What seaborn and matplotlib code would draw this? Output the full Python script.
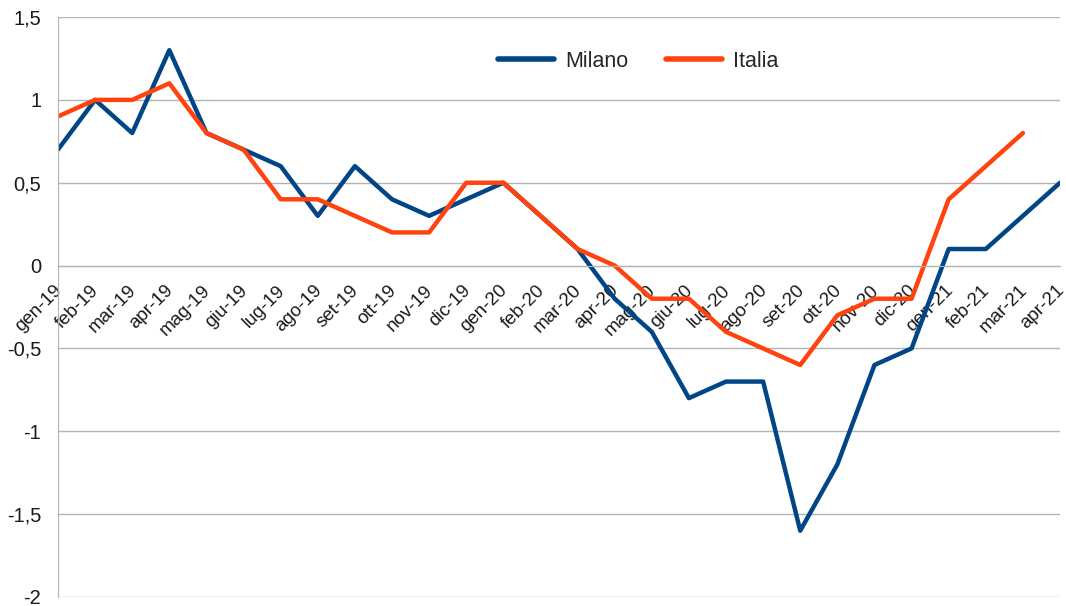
import pandas as pd
import seaborn as sns
import matplotlib.pyplot as plt
import matplotlib.transforms as mtransforms

# DATI
mesi = ['gen-19', 'feb-19', 'mar-19', 'apr-19', 'mag-19', 'giu-19', 'lug-19',
        'ago-19', 'set-19', 'ott-19', 'nov-19', 'dic-19', 'gen-20', 'feb-20',
        'mar-20', 'apr-20', 'mag-20', 'giu-20', 'lug-20', 'ago-20', 'set-20',
        'ott-20', 'nov-20', 'dic-20', 'gen-21', 'feb-21', 'mar-21', 'apr-21']

milano = [0.7, 1.0, 0.8, 1.3, 0.8, 0.7, 0.6, 0.3, 0.6, 0.4, 0.3, 0.4, 0.5, 0.3,
          0.1, -0.2, -0.4, -0.8, -0.7, -0.7, -1.6, -1.2, -0.6, -0.5, 0.1, 0.1,
          0.3, 0.5]

italia = [0.9, 1.0, 1.0, 1.1, 0.8, 0.7, 0.4, 0.4, 0.3, 0.2, 0.2, 0.5, 0.5, 0.3,
          0.1, 0.0, -0.2, -0.2, -0.4, -0.5, -0.6, -0.3, -0.2, -0.2, 0.4, 0.6,
          0.8, None]

y_ticks = [1.5, 1, 0.5, 0, -0.5, -1, -1.5, -2]
y_labels = ['1,5', '1', '0,5', '0', '-0,5', '-1', '-1,5', '-2']

df = pd.DataFrame({'pos': list(range(len(mesi))) * 2,
                   'valore': milano + italia,
                   'serie': ['Milano'] * len(mesi) + ['Italia'] * len(mesi)})
df['valore'] = pd.to_numeric(df['valore'])

sns.set_style('white')
plt.rcParams['font.family'] = ['Liberation Sans', 'DejaVu Sans']

fig = plt.figure(figsize=(10.66, 6.06), dpi=100)
ax = fig.add_axes([0.0544, 0.0149, 0.94, 0.957])

sns.lineplot(data=df, x='pos', y='valore', hue='serie',
             palette={'Milano': '#004586', 'Italia': '#ff420e'},
             linewidth=3.2, ax=ax, sort=False)

# asse x sullo zero (prima delle etichette, altrimenti si azzerano)
ax.spines['bottom'].set_position(('data', 0))
ax.spines['bottom'].set_color('#b3b3b3')
ax.spines['left'].set_color('#b3b3b3')
ax.spines['top'].set_visible(False)
ax.spines['right'].set_visible(False)

ax.set_axisbelow(True)
ax.set_xlim(0, len(mesi) - 1)
ax.set_ylim(-2, 1.5)
ax.set_yticks(y_ticks)
ax.set_yticklabels(y_labels, fontsize=14.5)
ax.set_xticks(range(len(mesi)))
ax.set_xticklabels(mesi, fontsize=13.5, rotation=45, ha='right', va='center',
                   rotation_mode='anchor')
ax.yaxis.grid(True, color='#b3b3b3', linewidth=1)
ax.tick_params(axis='x', length=7, width=1, color='#b3b3b3', pad=9,
               direction='out', labelcolor='#1a1a1a')
ax.tick_params(axis='y', length=7, width=1, color='#b3b3b3', pad=5,
               labelcolor='#1a1a1a')
ax.set_xlabel('')
ax.set_ylabel('')

# piccolo spostamento a destra delle etichette dei mesi
sposta = mtransforms.ScaledTranslation(1.5 / 100, 0, fig.dpi_scale_trans)
for lab in ax.get_xticklabels():
    lab.set_transform(lab.get_transform() + sposta)

leg = ax.legend(loc='upper center', bbox_to_anchor=(0.579, 0.975), ncol=2,
                frameon=False, fontsize=15.5, handlelength=2.6,
                columnspacing=1.75, handletextpad=0.5)
for line in leg.get_lines():
    line.set_linewidth(4)

plt.savefig('out.png', dpi=100)
